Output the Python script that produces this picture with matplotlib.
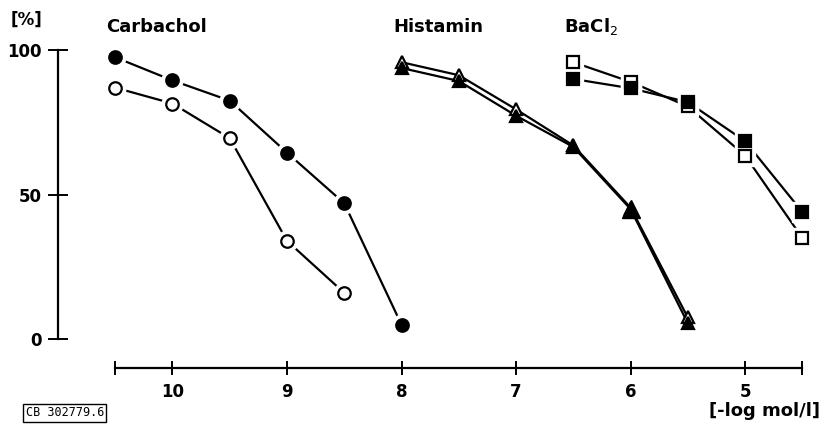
import matplotlib
matplotlib.use('Agg')
import matplotlib.pyplot as plt

# -log mol/l
carb_x = [10.5, 10.0, 9.5, 9.0, 8.5, 8.0]
carb_filled = [97.5, 89.5, 82.5, 64.5, 47.0, 5.0]
carb_open_x = [10.5, 10.0, 9.5, 9.0, 8.5]
carb_open = [87.0, 81.5, 69.5, 34.0, 16.0]

hist_x = [8.0, 7.5, 7.0, 6.5, 6.0, 5.5]
hist_filled = [93.8, 89.3, 77.3, 66.5, 45.0, 5.5]
hist_open = [95.8, 91.3, 79.5, 67.0, 45.5, 7.5]

ba_x = [6.5, 6.0, 5.5, 5.0, 4.5]
ba_filled = [90.0, 86.8, 82.0, 68.5, 44.0]
ba_open = [95.8, 89.0, 80.5, 63.5, 35.0]

xticks = [10, 9, 8, 7, 6, 5]
yticks = [0, 50, 100]

plt.rcParams['font.family'] = ['DejaVu Sans']

fig = plt.figure(figsize=(8.27, 4.30), dpi=100)
ax = fig.add_axes([0.0701, 0.144, 0.907, 0.753])
ax.set_xlim(11.0, 4.45)
ax.set_ylim(-10, 102)


def series(x, y, marker, filled, ms=9, halo=True):
    ax.plot(x, y, color='black', lw=1.6, zorder=2, clip_on=False)
    if halo:
        ax.plot(x, y, ls='none', marker=marker, ms=ms + 6, mfc='white',
                mec='white', zorder=3, clip_on=False)
    ax.plot(x, y, ls='none', marker=marker, ms=ms,
            mfc='black' if filled else 'white', mec='black', mew=1.6,
            zorder=4, clip_on=False)


series(carb_x, carb_filled, 'o', True)
series(carb_open_x, carb_open, 'o', False)
series(hist_x, hist_open, '^', False, ms=8, halo=False)
series(hist_x, hist_filled, '^', True, ms=8, halo=False)
ax.plot(hist_x[4], hist_filled[4], ls='none', marker='^', ms=13, color='black',
        zorder=5)
series(ba_x, ba_open, 's', False, ms=8)
series(ba_x, ba_filled, 's', True, ms=8)

for s in ['top', 'right']:
    ax.spines[s].set_visible(False)
ax.spines['left'].set_bounds(0, 100)
ax.spines['bottom'].set_bounds(10.5, 4.5)
ax.spines['left'].set_linewidth(1.6)
ax.spines['bottom'].set_linewidth(1.6)

ax.set_xticks(xticks + [10.5, 4.5])
ax.set_xticklabels([str(t) for t in xticks] + ['', ''])
ax.set_yticks(yticks)
ax.tick_params(axis='x', direction='inout', length=10, width=1.4, labelsize=12, pad=6)
ax.tick_params(axis='y', direction='inout', length=15, width=1.4, labelsize=12, pad=4)
for lab in ax.get_xticklabels() + ax.get_yticklabels():
    lab.set_fontweight('semibold')

fig.text(0.032, 0.955, '[%]', fontsize=12, fontweight='bold', ha='center', va='center')
ax.text(10.58, 108, 'Carbachol', fontsize=13, fontweight='semibold', ha='left', va='center')
ax.text(8.07, 108, 'Histamin', fontsize=13, fontweight='semibold', ha='left', va='center')
ax.text(6.58, 108, r'BaCl$_2$', fontsize=13, fontweight='semibold', ha='left', va='center')
fig.text(0.992, 0.045, '[-log mol/l]', fontsize=13, fontweight='semibold',
         ha='right', va='center')
fig.text(0.031, 0.040, 'CB 302779.6', fontsize=8.5, family='DejaVu Sans Mono',
         ha='left', va='center',
         bbox=dict(boxstyle='square,pad=0.2', fc='white', ec='black', lw=1))

fig.savefig('out.png', dpi=100)
